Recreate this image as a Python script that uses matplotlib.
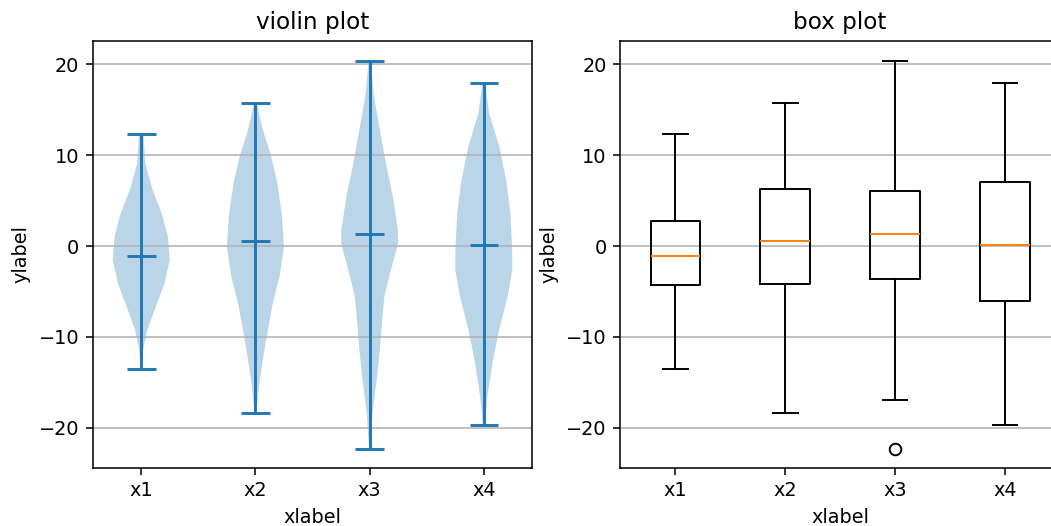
import matplotlib
matplotlib.use("Agg")
import matplotlib.pyplot as plt
import numpy as np

labels = ["x1", "x2", "x3", "x4"]
positions = [1, 2, 3, 4]

# violin outlines: y value and relative half width
x1_coords = [-13.5, -11.4, -9.2, -6.6, -4.1, -1.5, 1.1, 3.3, 6.2, 9.1, 12.3]
x1_vals = [0.03, 0.07, 0.22, 0.52, 0.82, 1.0, 0.93, 0.75, 0.40, 0.14, 0.08]
x2_coords = [-18.4, -15.1, -12.1, -9.2, -6.3, -3.3, 0.0, 3.3, 6.9, 9.9, 12.8, 15.7]
x2_vals = [0.03, 0.14, 0.28, 0.44, 0.61, 0.85, 1.0, 0.93, 0.77, 0.55, 0.26, 0.05]
x3_coords = [-22.3, -18.4, -14.7, -11.4, -8.5, -5.5, -2.6, 0.3, 1.8, 5.5, 9.1, 12.8, 16.5, 20.4]
x3_vals = [0.02, 0.10, 0.25, 0.36, 0.43, 0.52, 0.75, 1.0, 0.99, 0.81, 0.57, 0.36, 0.15, 0.03]
x4_coords = [-19.7, -16.5, -12.8, -9.2, -5.5, -2.6, 0.0, 3.7, 7.3, 11.0, 14.6, 17.9]
x4_vals = [0.03, 0.13, 0.31, 0.54, 0.84, 1.0, 0.99, 0.93, 0.78, 0.54, 0.19, 0.05]

# box plot statistics
medians = [-1.1, 0.6, 1.3, 0.1]
q1s = [-4.3, -4.2, -3.6, -6.0]
q3s = [2.8, 6.3, 6.1, 7.1]
whis_lo = [-13.5, -18.4, -17.0, -19.7]
whis_hi = [12.3, 15.7, 20.4, 17.9]
fliers = [[], [], [-22.3], []]
mins = [-13.5, -18.4, -22.3, -19.7]
maxs = [12.3, 15.7, 20.4, 17.9]

all_coords = [x1_coords, x2_coords, x3_coords, x4_coords]
all_vals = [x1_vals, x2_vals, x3_vals, x4_vals]

fig = plt.figure(figsize=(1051 / 139, 526 / 139), dpi=139)
ax1 = fig.add_axes([0.0882, 0.1108, 0.4183, 0.8118])
ax2 = fig.add_axes([0.5902, 0.1108, 0.4183, 0.8118])

vpstats = []
for i in range(4):
    vpstats.append({
        "coords": np.array(all_coords[i]),
        "vals": np.array(all_vals[i]),
        "mean": medians[i],
        "median": medians[i],
        "min": mins[i],
        "max": maxs[i],
        "quantiles": [],
    })
ax1.violin(vpstats, positions=positions, showmeans=False, showmedians=True)
ax1.set_title("violin plot")

bxpstats = []
for i in range(4):
    bxpstats.append({
        "med": medians[i],
        "q1": q1s[i],
        "q3": q3s[i],
        "whislo": whis_lo[i],
        "whishi": whis_hi[i],
        "fliers": fliers[i],
    })
ax2.bxp(bxpstats, positions=positions)
ax2.set_title("box plot")

for ax in [ax1, ax2]:
    ax.yaxis.grid(True)
    ax.set_xticks(positions, labels=labels)
    ax.set_xlabel("xlabel")
    ax.set_ylabel("ylabel")
    ax.set_ylim(-24.4, 22.6)
ax2.set_xlim(0.5, 4.5)

fig.savefig("out.png", dpi=139)
